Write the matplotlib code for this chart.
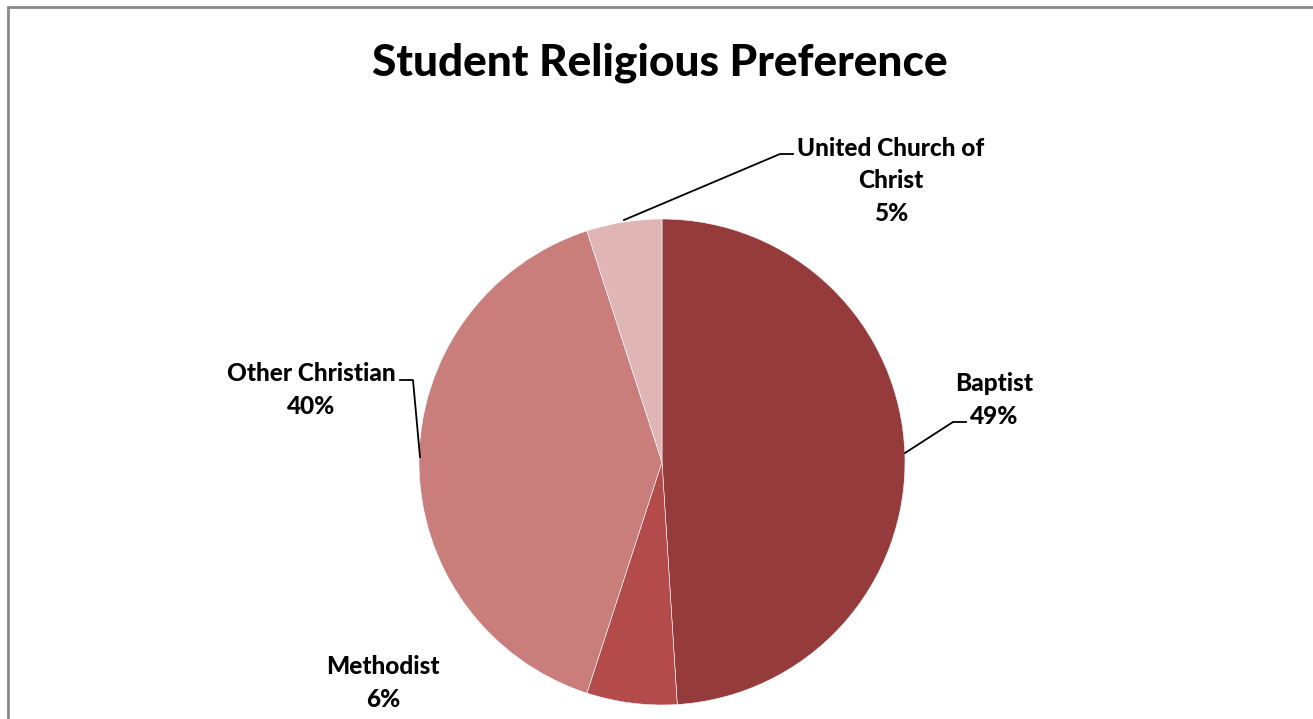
import matplotlib
matplotlib.use("Agg")
import matplotlib.pyplot as plt
from matplotlib.patches import Rectangle

categories = ["Baptist", "Methodist", "Other Christian", "United Church of\nChrist"]
values = [49, 6, 40, 5]
colors = ["#953B3B", "#B34B4A", "#C97E7C", "#DFB5B5"]
title = "Student Religious Preference"

W, H = 1313, 719
fig = plt.figure(figsize=(W / 100, H / 100), dpi=100)
ax = fig.add_axes([0, 0, 1, 1])

def py(y):
    return H - y

# border
fig.patches.append(Rectangle((8 / W, -0.1), 1.2, (H - 7) / H + 0.1, transform=fig.transFigure,
                             fill=False, edgecolor="#898989", linewidth=2))

cx, cy, r = 662, 462, 243
wedges, _ = ax.pie(values, colors=colors, startangle=90, counterclock=False,
                   center=(cx, py(cy)), radius=r, frame=True,
                   wedgeprops=dict(edgecolor="white", linewidth=0.4))
ax.set_xlim(0, W)
ax.set_ylim(0, H)
ax.set_aspect("equal")
ax.axis("off")

FONT = "Lato"
total = sum(values)
pct = [f"{round(v / total * 100)}%" for v in values]

ax.text(660, py(63), title, ha="center", va="center", fontsize=31.8, fontweight="black", family=FONT)

label_pos = [(994, 400), (383, 683), (311, 390), (891, 181)]
for cat, p, (lx, ly) in zip(categories, pct, label_pos):
    ax.text(lx, py(ly), f"{cat}\n{p}", ha="center", va="center", fontsize=17.6,
            fontweight="black", family=FONT, linespacing=1.5)

# leader lines
leaders = [
    [(905, 453), (953, 422), (966, 422)],
    [(420, 457), (413, 380), (400, 380)],
    [(624, 220), (780, 154), (793, 154)],
]
for pts in leaders:
    ax.plot([p[0] for p in pts], [py(p[1]) for p in pts], color="black", linewidth=1.3)

fig.savefig("out.png", dpi=100)
